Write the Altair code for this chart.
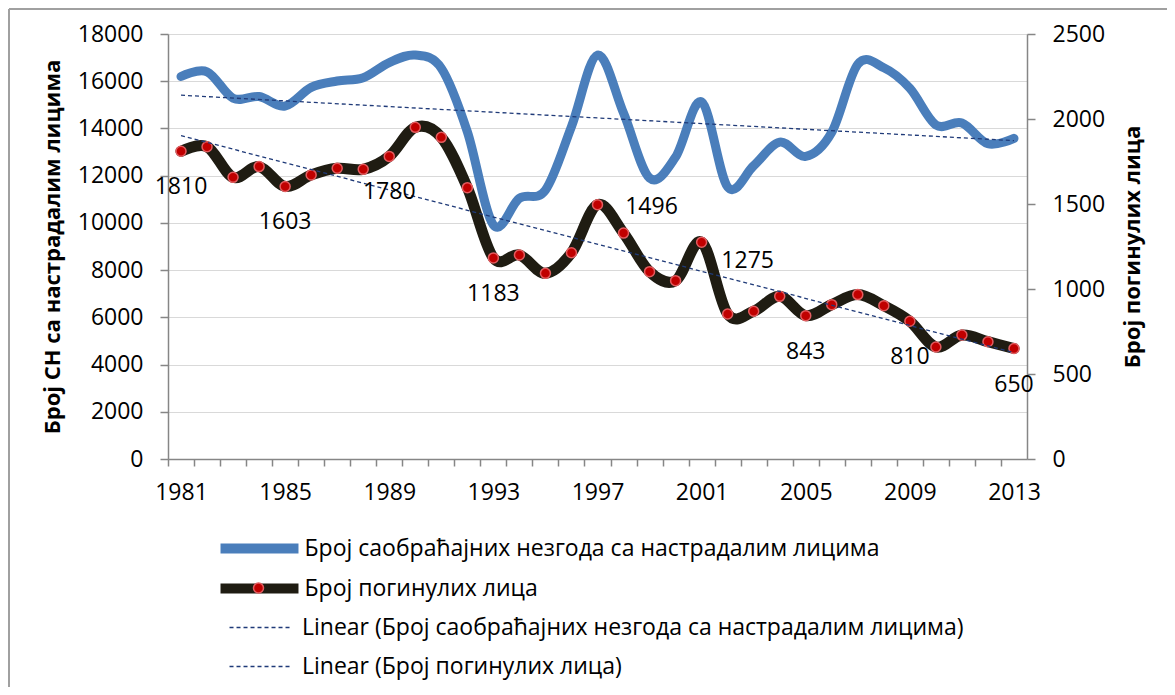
import altair as alt
import pandas as pd

# ---------------- data ----------------
years = list(range(1981, 2014))
accidents = [16200, 16400, 15280, 15350, 14950, 15740, 16010, 16150, 16790, 17110,
             16550, 13860, 9910, 11040, 11390, 14080, 17110, 14650, 11900, 12790,
             15120, 11520, 12420, 13420, 12820, 13840, 16720, 16570, 15700, 14150,
             14230, 13350, 13580]
deaths = [1810, 1837, 1657, 1720, 1603, 1671, 1710, 1704, 1780, 1951,
          1892, 1596, 1183, 1200, 1092, 1213, 1496, 1329, 1102, 1049,
          1275, 853, 869, 957, 843, 908, 967, 902, 810, 659,
          729, 690, 650]
labeled_years = [1981, 1985, 1989, 1993, 1997, 2001, 2005, 2009, 2013]
x_label_years = [1981, 1985, 1989, 1993, 1997, 2001, 2005, 2009, 2013]
x_tick_years = years + [2014]
left_ticks = [0, 2000, 4000, 6000, 8000, 10000, 12000, 14000, 16000, 18000]
right_ticks = [0, 500, 1000, 1500, 2000, 2500]

name_acc = "Број саобраћајних незгода са настрадалим лицима"
name_dead = "Број погинулих лица"
name_trend_acc = "Linear (Број саобраћајних незгода са настрадалим лицима)"
name_trend_dead = "Linear (Број погинулих лица)"
left_title = "Број СН са настрадалим лицима"
right_title = "Број погинулих лица"

df = pd.DataFrame({"year": years, "accidents": accidents, "deaths": deaths})

# ---------------- style ----------------
W, H = 859, 425
HALF = W / len(years) / 2
FONT = "Open Sans"
BLUE = "#4a7ebb"
BLACK = "#1f1c12"
RED = "#c00000"
DOT_EDGE = "#e25c5f"
NAVY = "#1f3a78"
AXIS_GRAY = "#868686"
GRID = "#d9d9d9"

x_enc = alt.X(
    "year:Q",
    scale=alt.Scale(domain=[1980.5, 2013.5], nice=False, zero=False),
    axis=alt.Axis(
        values=x_tick_years,
        format="d",
        labelExpr=f"indexof({x_label_years}, datum.value) >= 0 ? datum.label : ''",
        tickOffset=-HALF,
        labelOffset=HALF,
        tickSize=7,
        tickColor=AXIS_GRAY,
        tickWidth=1.5,
        domainColor=AXIS_GRAY,
        domainWidth=1.5,
        grid=False,
        labelFont=FONT,
        labelFontSize=23,
        labelColor="black",
        labelPadding=15,
        labelOverlap=False,
        labelFlush=False,
        title=None,
    ),
)

y_left = alt.Y(
    "accidents:Q",
    scale=alt.Scale(domain=[0, 18000], nice=False),
    axis=alt.Axis(
        values=left_ticks, format="d", grid=True, gridColor=GRID, gridWidth=1.2,
        domainColor=AXIS_GRAY, domainWidth=1.5, tickColor=AXIS_GRAY, tickWidth=1.5,
        tickSize=8, labelPadding=17, labelFont=FONT, labelFontSize=23,
        labelColor="black", title=left_title, titleFont=FONT, titleFontSize=22,
        titleFontWeight="bold", titleColor="black", titleAngle=270,
        titleX=-116, titleY=H / 2, titleAlign="center", titleBaseline="middle",
    ),
)

y_right = alt.Y(
    "deaths:Q",
    scale=alt.Scale(domain=[0, 2500], nice=False),
    axis=alt.Axis(
        orient="right", values=right_ticks, format="d", grid=False,
        domainColor=AXIS_GRAY, domainWidth=1.5, tickColor=AXIS_GRAY, tickWidth=1.5,
        tickSize=8, labelPadding=17, labelFont=FONT, labelFontSize=23,
        labelColor="black", title=right_title, titleFont=FONT, titleFontSize=22,
        titleFontWeight="bold", titleColor="black", titleAngle=270,
        titleX=105, titleY=H / 2, titleAlign="center", titleBaseline="middle",
    ),
)

series_color = alt.Color(
    "series:N",
    scale=alt.Scale(domain=[name_acc, name_dead], range=[BLUE, BLACK]),
    legend=alt.Legend(
        title=None, orient="none", legendX=76.5, legendY=499.5,
        symbolType="M-4,0L4,0", symbolSize=380, symbolStrokeWidth=10,
        labelOffset=30, rowPadding=0, labelFont=FONT, labelFontSize=23,
        labelColor="black", padding=0, direction="vertical", labelLimit=0,
    ),
)

trend_dash = alt.StrokeDash(
    "trend:N",
    scale=alt.Scale(domain=[name_trend_acc, name_trend_dead], range=[[4, 3], [4, 3]]),
    legend=alt.Legend(
        title=None, orient="none", legendX=81, legendY=582,
        symbolType="M-4,0L4,0", symbolSize=240, symbolStrokeWidth=1.3,
        symbolStrokeColor=NAVY, labelOffset=30, rowPadding=15,
        labelFont=FONT, labelFontSize=23, labelColor="black", padding=0,
        direction="vertical", labelLimit=0,
    ),
)

dot_fill = alt.Fill(
    "dot:N",
    scale=alt.Scale(domain=[name_dead], range=[RED]),
    legend=alt.Legend(
        title=None, orient="none", legendX=84.5, legendY=548,
        symbolType="circle", symbolSize=100, symbolStrokeColor=DOT_EDGE,
        symbolStrokeWidth=1.5, labelExpr="''", labelFontSize=1, padding=0,
    ),
)

base = alt.Chart(df)

# ---------- left-axis group ----------
blue_line = base.mark_line(interpolate="cardinal", strokeWidth=9, strokeCap="round",
                           strokeJoin="round").transform_calculate(
    series=f"'{name_acc}'").encode(x=x_enc, y=y_left, color=series_color)

blue_trend = base.transform_regression("year", "accidents").transform_calculate(
    trend=f"'{name_trend_acc}'").mark_line(strokeWidth=1.3).encode(
    x=x_enc, y=y_left, color=alt.value(NAVY), strokeDash=trend_dash)

left_group = alt.layer(blue_line, blue_trend)

# ---------- right-axis group ----------
black_line = base.mark_line(interpolate="cardinal", strokeWidth=11, strokeCap="round",
                            strokeJoin="round").transform_calculate(
    series=f"'{name_dead}'").encode(x=x_enc, y=y_right, color=series_color)

points = base.mark_circle(size=100, opacity=1, stroke=DOT_EDGE, strokeWidth=1.5).transform_calculate(
    dot=f"'{name_dead}'").encode(x=x_enc, y=y_right, fill=dot_fill)

dead_trend = base.transform_regression("year", "deaths").transform_calculate(
    trend=f"'{name_trend_dead}'").mark_line(strokeWidth=1.3).encode(
    x=x_enc, y=y_right, color=alt.value(NAVY), strokeDash=trend_dash)

label_common = dict(font=FONT, fontSize=23, color="black", align="center", baseline="middle")
labels_below = base.transform_filter(
    f"indexof({labeled_years}, datum.year) >= 0 && datum.year != 1997 && datum.year != 2001"
).mark_text(dy=36, **label_common).encode(x=x_enc, y=y_right, text=alt.Text("deaths:Q", format="d"))

label_1997 = base.transform_filter("datum.year == 1997").mark_text(
    dx=54, dy=2, **label_common).encode(x=x_enc, y=y_right, text=alt.Text("deaths:Q", format="d"))

label_2001 = base.transform_filter("datum.year == 2001").mark_text(
    dx=46, dy=19, **label_common).encode(x=x_enc, y=y_right, text=alt.Text("deaths:Q", format="d"))

right_group = alt.layer(black_line, points, dead_trend, labels_below, label_1997, label_2001)

# ---------- chart frame (decorative) ----------
frame_left = base.transform_filter("datum.year == 1981").mark_rule(
    color="#a0a0a0", strokeWidth=2).encode(
    x=alt.value(-159), y=alt.value(-25), y2=alt.value(H + 230))
frame_top = base.transform_filter("datum.year == 1981").mark_rule(
    color="#a0a0a0", strokeWidth=2).encode(
    x=alt.value(-159), x2=alt.value(W + 145), y=alt.value(-25))

chart = alt.layer(left_group, right_group, frame_left, frame_top).resolve_scale(
    y="independent"
).properties(
    width=W, height=H,
    autosize=alt.AutoSizeParams(type="none"),
    padding={"left": 160, "top": 26, "right": 140, "bottom": 228},
).configure_view(stroke=None).configure(background="white")

chart.save("out.html", embed_options={"renderer": "svg", "actions": False})
